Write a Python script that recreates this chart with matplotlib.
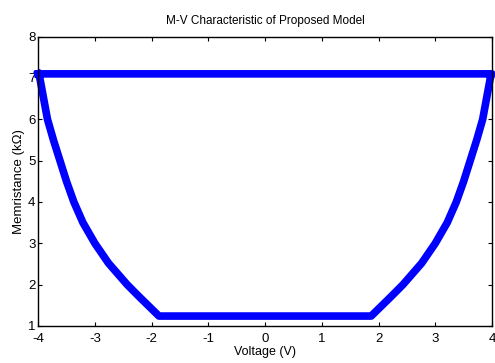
import matplotlib.pyplot as plt

plt.rcParams['font.family'] = ['Liberation Sans', 'DejaVu Sans']
plt.rcParams['axes.unicode_minus'] = False

# upper branch (flat at high resistance)
top_v = [-4.0, 4.0]
top_m = [7.1, 7.1]

# right branch, going down from +4 V
right_v = [4.0, 3.97, 3.835, 3.73, 3.615, 3.50, 3.37, 3.21, 3.0, 2.76, 2.43, 2.22, 1.87]
right_m = [7.1, 7.0, 6.0, 5.5, 5.0, 4.5, 4.0, 3.5, 3.0, 2.52, 2.0, 1.71, 1.24]

# lower branch (flat at low resistance)
bottom_v = [1.87, -1.87]
bottom_m = [1.24, 1.24]

# left branch, going up to -4 V
left_v = [-1.87, -2.22, -2.43, -2.76, -3.0, -3.21, -3.37, -3.50, -3.615, -3.73, -3.835, -3.97, -4.0]
left_m = [1.24, 1.71, 2.0, 2.52, 3.0, 3.5, 4.0, 4.5, 5.0, 5.5, 6.0, 7.0, 7.1]

fig = plt.figure(figsize=(4.95, 3.63), dpi=100)
ax = fig.add_axes([0.077, 0.102, 0.917, 0.797])

v = top_v + right_v + bottom_v + left_v
m = top_m + right_m + bottom_m + left_m
ax.plot(v, m, color='#0000ff', linewidth=5.5, solid_joinstyle='round', clip_on=False)

ax.set_xlim(-4, 4)
ax.set_ylim(1, 8)
ax.set_xticks(range(-4, 5))
ax.set_yticks(range(1, 9))
ax.tick_params(direction='in', length=3, width=0.8, top=True, right=True,
               labelsize=9.5)
ax.tick_params(axis='x', pad=5)
ax.tick_params(axis='y', pad=2)
for s in ax.spines.values():
    s.set_linewidth(1.0)

ax.set_title('M-V Characteristic of Proposed Model', fontsize=8.5, pad=9)
ax.set_xlabel('Voltage (V)', fontsize=9, labelpad=1)
ax.set_ylabel('Memristance (k\u03a9)', fontsize=9.5, labelpad=2)

fig.savefig('out.png', dpi=100)
